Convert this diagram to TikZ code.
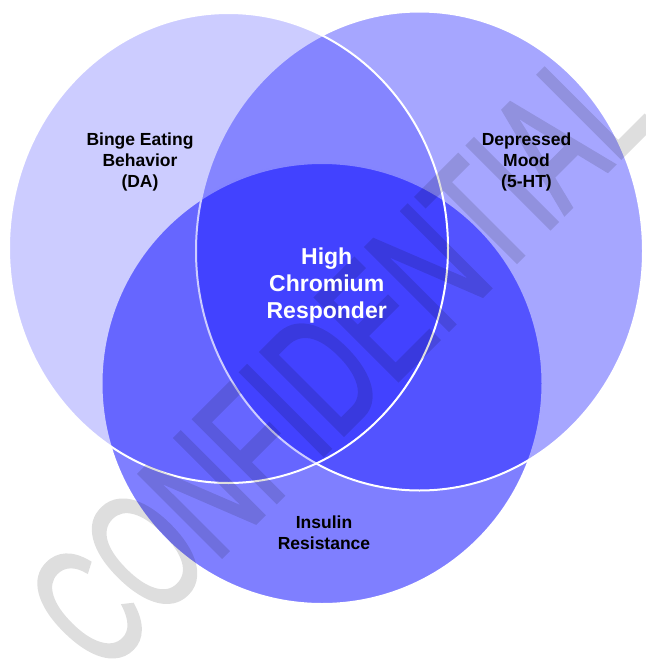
\documentclass[tikz,border=0pt]{standalone}
\usepackage{fontspec}
\setmainfont{Liberation Sans}
\newfontfamily\stampfont[FakeBold=2]{Liberation Sans}
\begin{document}
\begin{tikzpicture}[x=1pt,y=-1pt,
  venn/.style={fill=blue, fill opacity=#1, draw=white, draw opacity=1, line width=2pt},
  lbl/.style={font=\bfseries\fontsize{17.5}{21.3}\selectfont, align=center, text=black, inner sep=0pt},
  hub/.style={font=\bfseries\fontsize{23}{27}\selectfont, align=center, text=white, inner sep=0pt},
  stamp/.style={font=\stampfont\fontsize{170}{170}\selectfont, text=black, inner sep=0pt}
]
\useasboundingbox (0,0) rectangle (645,661);

% three overlapping sets, bottom one first so the upper outlines stay crisp
\path[venn=0.5]  (322,383.5) ellipse [x radius=220.5pt, y radius=220.5pt];
\path[venn=0.35] (419.5,251) ellipse [x radius=223.5pt, y radius=239.5pt];
\path[venn=0.2]  (228.5,248) ellipse [x radius=219.5pt, y radius=235pt];

% diagonal stamp, composited as one faint layer
\begin{scope}[transparency group, opacity=0.13]
  \node[stamp, rotate=45, xscale=0.629] (wm) at (338,358) {CONFIDENTIAL};
\end{scope}

% set labels
\node[lbl] (binge) at (140,162) {Binge Eating\\Behavior\\(DA)};
\node[lbl] (mood) at (526.5,162) {Depressed\\Mood\\(5-HT)};
\node[lbl] (insulin) at (324,532.5) {Insulin\\Resistance};
\node[hub] (core) at (326.7,285.6) {High\\Chromium\\Responder};
\end{tikzpicture}
\end{document}
